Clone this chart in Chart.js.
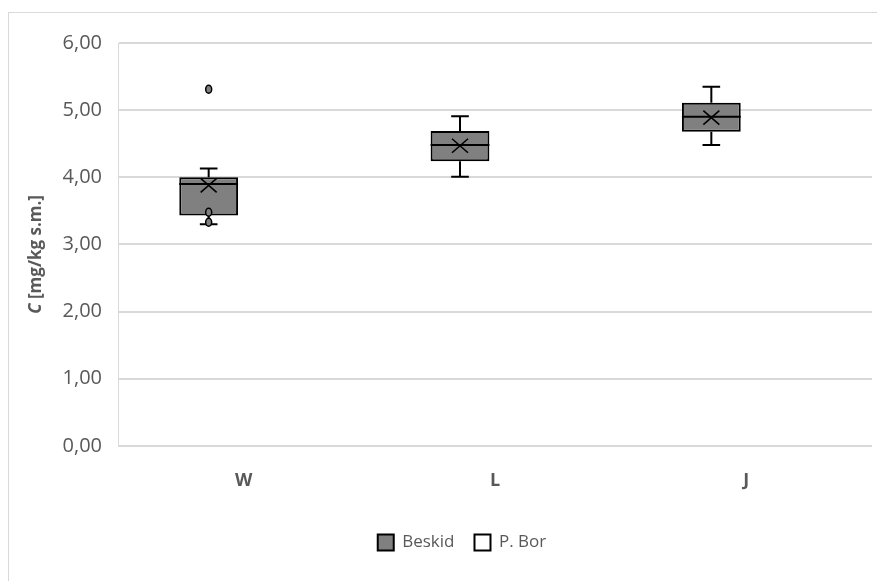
<!DOCTYPE html>
<html>
<head>
<meta charset="utf-8">
<script src="https://cdn.jsdelivr.net/npm/chart.js@4/dist/chart.umd.min.js"></script>
<style>
  html, body { margin: 0; padding: 0; background: #fff; }
  #wrap { position: relative; width: 877px; height: 581px; }
</style>
</head>
<body>
<div id="wrap"><canvas id="boxChart" width="877" height="581"></canvas></div>
<script>
// Box plot values
const categories = ['W', 'L', 'J'];
const seriesNames = ['Beskid', 'P. Bor'];
const whiskerMin = [3.30, 4.01, 4.48];
const quartile1 = [3.43, 4.24, 4.68];
const medians = [3.90, 4.48, 4.90];
const quartile3 = [4.00, 4.69, 5.11];
const whiskerMax = [4.13, 4.91, 5.35];
const means = [3.88, 4.47, 4.89];
const outliers = [[5.31, 3.48, 3.33], [], []];
const yTicks = [0, 1, 2, 3, 4, 5, 6];

const textGray = '#595959';
const gridGray = '#d9d9d9';

// whiskers, median, mean cross and outliers on top of the floating bars
const boxExtras = {
    id: 'boxExtras',
    afterDatasetsDraw(chart) {
        const ctx = chart.ctx;
        const yScale = chart.scales.y;
        const meta = chart.getDatasetMeta(0);
        meta.data.forEach((bar, i) => {
            const x = bar.x;
            const half = bar.width / 2;
            const cap = half * 0.3;
            const py = v => yScale.getPixelForValue(v);
            ctx.save();
            ctx.strokeStyle = '#000';
            ctx.lineWidth = 2;
            ctx.beginPath();
            ctx.moveTo(x, py(quartile3[i])); ctx.lineTo(x, py(whiskerMax[i]));
            ctx.moveTo(x - cap, py(whiskerMax[i])); ctx.lineTo(x + cap, py(whiskerMax[i]));
            ctx.moveTo(x, py(quartile1[i])); ctx.lineTo(x, py(whiskerMin[i]));
            ctx.moveTo(x - cap, py(whiskerMin[i])); ctx.lineTo(x + cap, py(whiskerMin[i]));
            ctx.moveTo(x - half, py(medians[i])); ctx.lineTo(x + half, py(medians[i]));
            ctx.stroke();
            // mean cross
            const my = py(means[i]);
            ctx.lineWidth = 1.6;
            ctx.beginPath();
            ctx.moveTo(x - 8, my - 7); ctx.lineTo(x + 8, my + 7);
            ctx.moveTo(x - 8, my + 7); ctx.lineTo(x + 8, my - 7);
            ctx.stroke();
            // outliers
            ctx.lineWidth = 1.5;
            outliers[i].forEach(v => {
                ctx.beginPath();
                ctx.ellipse(x, py(v), 3, 4, 0, 0, Math.PI * 2);
                ctx.fillStyle = '#808080';
                ctx.fill();
                ctx.stroke();
            });
            ctx.restore();
        });
    }
};

// outer frame, legend nudge and the axis title with an italic C
const frameAndTitle = {
    id: 'frameAndTitle',
    afterLayout(chart) {
        // the original legend sits a little right of the canvas centre
        chart.legend.left += 26;
        chart.legend.right += 26;
    },
    beforeDraw(chart) {
        const ctx = chart.ctx;
        ctx.save();
        ctx.fillStyle = '#fff';
        ctx.fillRect(0, 0, chart.width, chart.height);
        ctx.strokeStyle = gridGray;
        ctx.lineWidth = 1;
        ctx.strokeRect(8.5, 12.5, chart.width + 20, chart.height + 20);
        ctx.restore();
    },
    afterDraw(chart) {
        const ctx = chart.ctx;
        const area = chart.chartArea;
        const f1 = 'italic bold 17px "Open Sans"';
        const f2 = 'bold 17px "Open Sans"';
        const part1 = 'C', part2 = ' [mg/kg s.m.]';
        ctx.save();
        ctx.font = f1;
        const w1 = ctx.measureText(part1).width;
        ctx.font = f2;
        const w2 = ctx.measureText(part2).width;
        ctx.translate(36, (area.top + area.bottom) / 2 + 10);
        ctx.rotate(-Math.PI / 2);
        ctx.fillStyle = textGray;
        ctx.textBaseline = 'middle';
        ctx.textAlign = 'left';
        const start = -(w1 + w2) / 2;
        ctx.font = f1;
        ctx.fillText(part1, start, 0);
        ctx.font = f2;
        ctx.fillText(part2, start + w1, 0);
        ctx.restore();
    }
};

new Chart(document.getElementById('boxChart'), {
    type: 'bar',
    data: {
        labels: categories,
        datasets: [{
            label: seriesNames[0],
            data: quartile1.map((q, i) => [q, quartile3[i]]),
            backgroundColor: '#808080',
            borderColor: '#000',
            borderWidth: 2,
            borderSkipped: false
        }, {
            label: seriesNames[1],
            data: categories.map(() => null),
            backgroundColor: '#fff',
            borderColor: '#000',
            borderWidth: 2,
            borderSkipped: false
        }]
    },
    options: {
        responsive: false,
        animation: false,
        devicePixelRatio: 1,
        datasets: { bar: { categoryPercentage: 0.557, barPercentage: 0.84 } },
        layout: { padding: { left: 0, top: 43, right: 5, bottom: 20 } },
        scales: {
            x: {
                afterFit: scale => { scale.height += 6.5; },
                grid: { display: false },
                border: { display: false },
                ticks: {
                    color: textGray,
                    font: { family: 'Open Sans', size: 18, weight: 'bold' },
                    padding: 16
                }
            },
            y: {
                min: 0,
                max: 6,
                afterBuildTicks: scale => { scale.ticks = yTicks.map(v => ({ value: v })); },
                afterFit: scale => { scale.width = 118; },
                grid: { color: gridGray, lineWidth: 2, drawTicks: false },
                border: { display: true, color: gridGray, width: 1 },
                ticks: {
                    color: textGray,
                    font: { family: 'Open Sans', size: 20 },
                    padding: 16,
                    callback: v => v.toFixed(2).replace('.', ',')
                }
            }
        },
        plugins: {
            legend: {
                position: 'bottom',
                labels: {
                    color: textGray,
                    font: { family: 'Open Sans', size: 17 },
                    boxWidth: 16,
                    boxHeight: 16,
                    padding: 20
                }
            },
            tooltip: { enabled: false }
        }
    },
    plugins: [boxExtras, frameAndTitle]
});
</script>
</body>
</html>
